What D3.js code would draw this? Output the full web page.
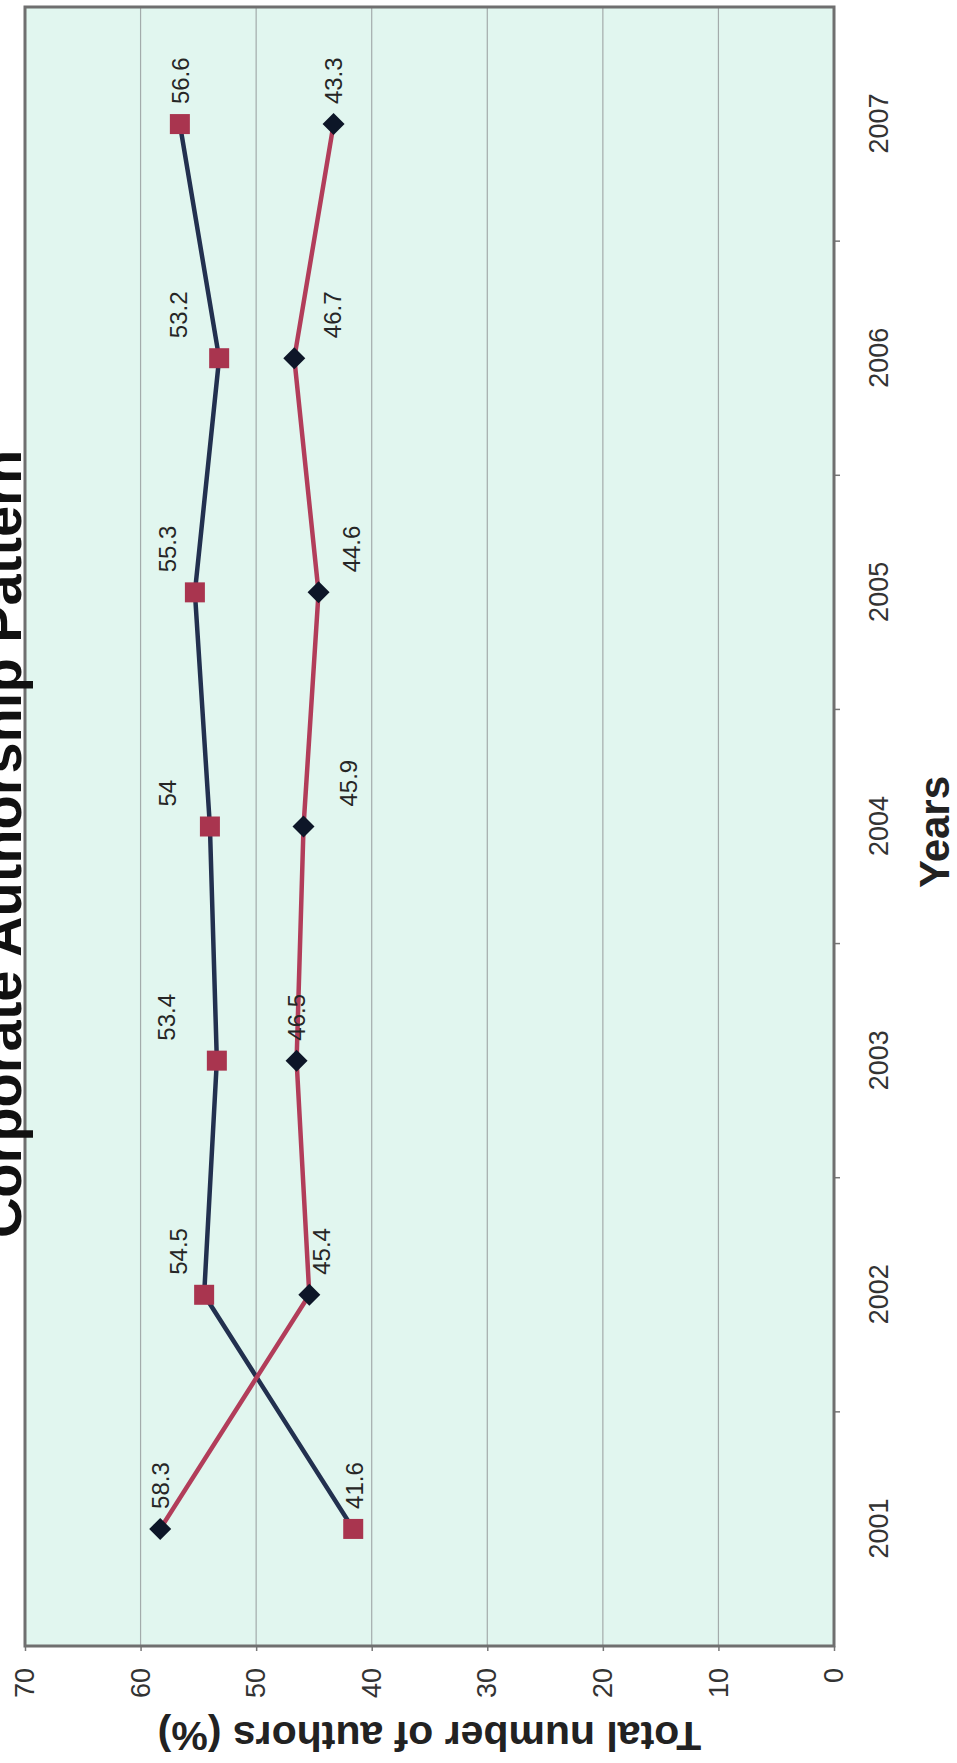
<!DOCTYPE html>
<html><head><meta charset="utf-8">
<script src="https://cdn.jsdelivr.net/npm/d3@7"></script>
<style>html,body{margin:0;padding:0;background:#fff;overflow:hidden}</style>
</head><body><div id="chart"></div>
<script>
// ---- data ----
const years = ["2001", "2002", "2003", "2004", "2005", "2006", "2007"];
const squareSeries = [41.6, 54.5, 53.4, 54, 55.3, 53.2, 56.6];   // navy line, maroon squares
const diamondSeries = [58.3, 45.4, 46.5, 45.9, 44.6, 46.7, 43.3]; // maroon line, dark diamonds
const valueTicks = [0, 10, 20, 30, 40, 50, 60, 70];
const chartTitle = "Corporate Authorship Pattern";
const xTitle = "Years";
const yTitle = "Total number of authors (%)";
// manual label nudges (px, perpendicular to category axis)
const squareLabelNudge = [1, -26, -50, -43, -28, -41, 0];
const diamondLabelNudge = [0, 12, 0, 45, 33, 38, 0];

// ---- layout (chart is drawn landscape, then turned 90° CCW) ----
const PW = 957, PH = 1763;
const plot = {left: 117, right: 1756, top: 25, bottom: 834};
const font = "'Liberation Sans', Arial, Helvetica, sans-serif";

const svg = d3.select("#chart").append("svg")
  .attr("width", PW).attr("height", PH)
  .style("display", "block");
svg.append("rect").attr("width", PW).attr("height", PH).attr("fill", "#ffffff");

const g = svg.append("g").attr("transform", `translate(0,${PH}) rotate(-90)`);

const x = d3.scalePoint().domain(years).range([plot.left, plot.right]).padding(0.5);
const y = d3.scaleLinear().domain([0, 70]).range([plot.bottom, plot.top]);
const step = x.step();

// plot background
g.append("rect")
  .attr("x", plot.left).attr("y", plot.top)
  .attr("width", plot.right - plot.left).attr("height", plot.bottom - plot.top)
  .attr("fill", "#e1f6ef");

// gridlines
g.append("g").selectAll("line").data(valueTicks.filter(v => v > 0 && v < 70)).join("line")
  .attr("x1", plot.left).attr("x2", plot.right)
  .attr("y1", d => y(d)).attr("y2", d => y(d))
  .attr("stroke", "#a3abab").attr("stroke-width", 1.2);

// value axis
const yAxis = d3.axisLeft(y).tickValues(valueTicks).tickSize(5).tickPadding(17).tickFormat(d3.format("d"));
const ya = g.append("g").attr("transform", `translate(${plot.left},0)`).call(yAxis);
ya.select(".domain").remove();
ya.selectAll(".tick line").attr("stroke", "#777").attr("stroke-width", 1.5);
ya.selectAll("text").attr("font-family", font).attr("font-size", 27).attr("fill", "#333");

// category axis
const xAxis = d3.axisBottom(x).tickSize(0).tickPadding(0);
const xa = g.append("g").attr("transform", `translate(0,${plot.bottom})`).call(xAxis);
xa.select(".domain").remove();
xa.selectAll("text").attr("font-family", font).attr("font-size", 27).attr("fill", "#333")
  .attr("dy", null).attr("y", 54);
// category boundary ticks
g.append("g").selectAll("line").data(years.slice(1)).join("line")
  .attr("x1", d => x(d) - step / 2).attr("x2", d => x(d) - step / 2)
  .attr("y1", plot.bottom).attr("y2", plot.bottom + 6)
  .attr("stroke", "#777").attr("stroke-width", 1.5);

// border
g.append("rect")
  .attr("x", plot.left).attr("y", plot.top)
  .attr("width", plot.right - plot.left).attr("height", plot.bottom - plot.top)
  .attr("fill", "none").attr("stroke", "#6f6f6f").attr("stroke-width", 3);

// lines
const line = d3.line().x((d, i) => x(years[i])).y(d => y(d));
g.append("path").datum(squareSeries).attr("d", line)
  .attr("fill", "none").attr("stroke", "#22304f").attr("stroke-width", 4.5);
g.append("path").datum(diamondSeries).attr("d", line)
  .attr("fill", "none").attr("stroke", "#b23d5a").attr("stroke-width", 4.5);

// markers
g.append("g").selectAll("rect").data(squareSeries).join("rect")
  .attr("x", (d, i) => x(years[i]) - 10).attr("y", d => y(d) - 10)
  .attr("width", 20).attr("height", 20)
  .attr("fill", "#a9354f");
g.append("g").selectAll("path").data(diamondSeries).join("path")
  .attr("d", (d, i) => {
    const cx = x(years[i]), cy = y(d), r = 11;
    return `M${cx},${cy - r}L${cx + r},${cy}L${cx},${cy + r}L${cx - r},${cy}Z`;
  })
  .attr("fill", "#0d1628");

// data labels
function labels(series, nudge) {
  g.append("g").selectAll("text").data(series).join("text")
    .attr("x", (d, i) => x(years[i]) + 20)
    .attr("y", (d, i) => y(d) + nudge[i])
    .attr("dy", "0.36em")
    .attr("text-anchor", "start")
    .attr("font-family", font).attr("font-size", 24).attr("fill", "#262626")
    .text(d => String(d));
}
labels(squareSeries, squareLabelNudge);
labels(diamondSeries, diamondLabelNudge);

// titles
g.append("text").attr("x", 919).attr("y", 21)
  .attr("text-anchor", "middle").attr("font-family", font)
  .attr("font-size", 56).attr("font-weight", "bold").attr("fill", "#111")
  .text(chartTitle);
g.append("text").attr("x", 931).attr("y", 949)
  .attr("text-anchor", "middle").attr("font-family", font)
  .attr("font-size", 42).attr("font-weight", "bold").attr("fill", "#222")
  .text(xTitle);
g.append("text").attr("transform", `translate(41,${(plot.top + plot.bottom) / 2}) rotate(-90)`)
  .attr("text-anchor", "middle").attr("font-family", font)
  .attr("font-size", 41).attr("font-weight", "bold").attr("fill", "#222")
  .text(yTitle);
</script>
</body></html>
